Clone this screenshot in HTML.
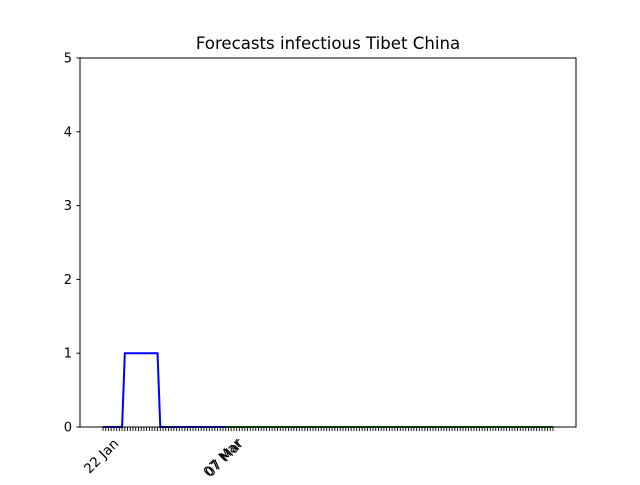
<!DOCTYPE html>
<html><head><meta charset="utf-8"><style>
body{margin:0;background:#fff;}
svg text{font-family:"DejaVu Sans","Liberation Sans",sans-serif;}
</style></head><body>
<svg id="chart" width="640" height="480" xmlns="http://www.w3.org/2000/svg">
<rect width="640" height="480" fill="#fff"/>
<text x="328" y="49" font-size="16.6" text-anchor="middle">Forecasts infectious Tibet China</text>
<g id="marks"></g>
<g id="axes"></g>
<rect x="80" y="58" width="496" height="369" fill="none" stroke="#000" stroke-width="1"/>
</svg>
<script>
const yTicks = [0,1,2,3,4,5];
const observed = [0,0,0,0,0,0,0,0,1,1,1,1,1,1,1,1,1,1,1,1,1,0,0,0,0,0,0,0,0,0,0,0,0,0,0,0,0,0,0,0,0,0,0,0,0,0];
const forecastStart = 45;
const forecastEnd = 165;
const forecastValue = 0;
const xLabels = ["22 Jan","07 Mar","07 Mar"];
const xLabelDays = [0,45,45.7];
const totalDays = 165;

const NS="http://www.w3.org/2000/svg";
const x0=103, dx=(553-103)/totalDays;
const X=d=>x0+d*dx;
const Y=v=>427-v*(369/5);
const marks=document.getElementById('marks'), axes=document.getElementById('axes');
function mk(tag,attrs,parent){const e=document.createElementNS(NS,tag);for(const k in attrs)e.setAttribute(k,attrs[k]);parent.appendChild(e);return e;}

const fpts=[[forecastStart,forecastValue],[forecastEnd,forecastValue]].map(p=>X(p[0])+','+Y(p[1])).join(' ');
const fl=mk('polyline',{points:fpts,fill:'none',stroke:'#008000','stroke-width':2},marks);


const opts=observed.map((v,i)=>X(i)+','+Y(v)).join(' ');
const ol=mk('polyline',{points:opts,fill:'none',stroke:'#0000ff','stroke-width':2},marks);



yTicks.forEach(t=>{
  const l=mk('line',{x1:76.5,x2:80,y1:Y(t),y2:Y(t),stroke:'#000'},axes);
  
  
  const tx=mk('text',{x:72,y:Y(t)+4.5,'font-size':13,'text-anchor':'end'},axes);
  tx.textContent=t;
  
  
});
for(let d=0;d<=totalDays;d++){
  const l=mk('line',{x1:X(d),x2:X(d),y1:427,y2:431,stroke:'#000','stroke-width':0.9},axes);
  
  
}
xLabels.forEach((s,i)=>{
  const x=X(xLabelDays[i])+10, y=438;
  const tx=mk('text',{x:x,y:y+9,'font-size':13.5,'text-anchor':'end',transform:`rotate(-45 ${x} ${y})`},axes);
  tx.textContent=s;
  
  
});
</script>
</body></html>
